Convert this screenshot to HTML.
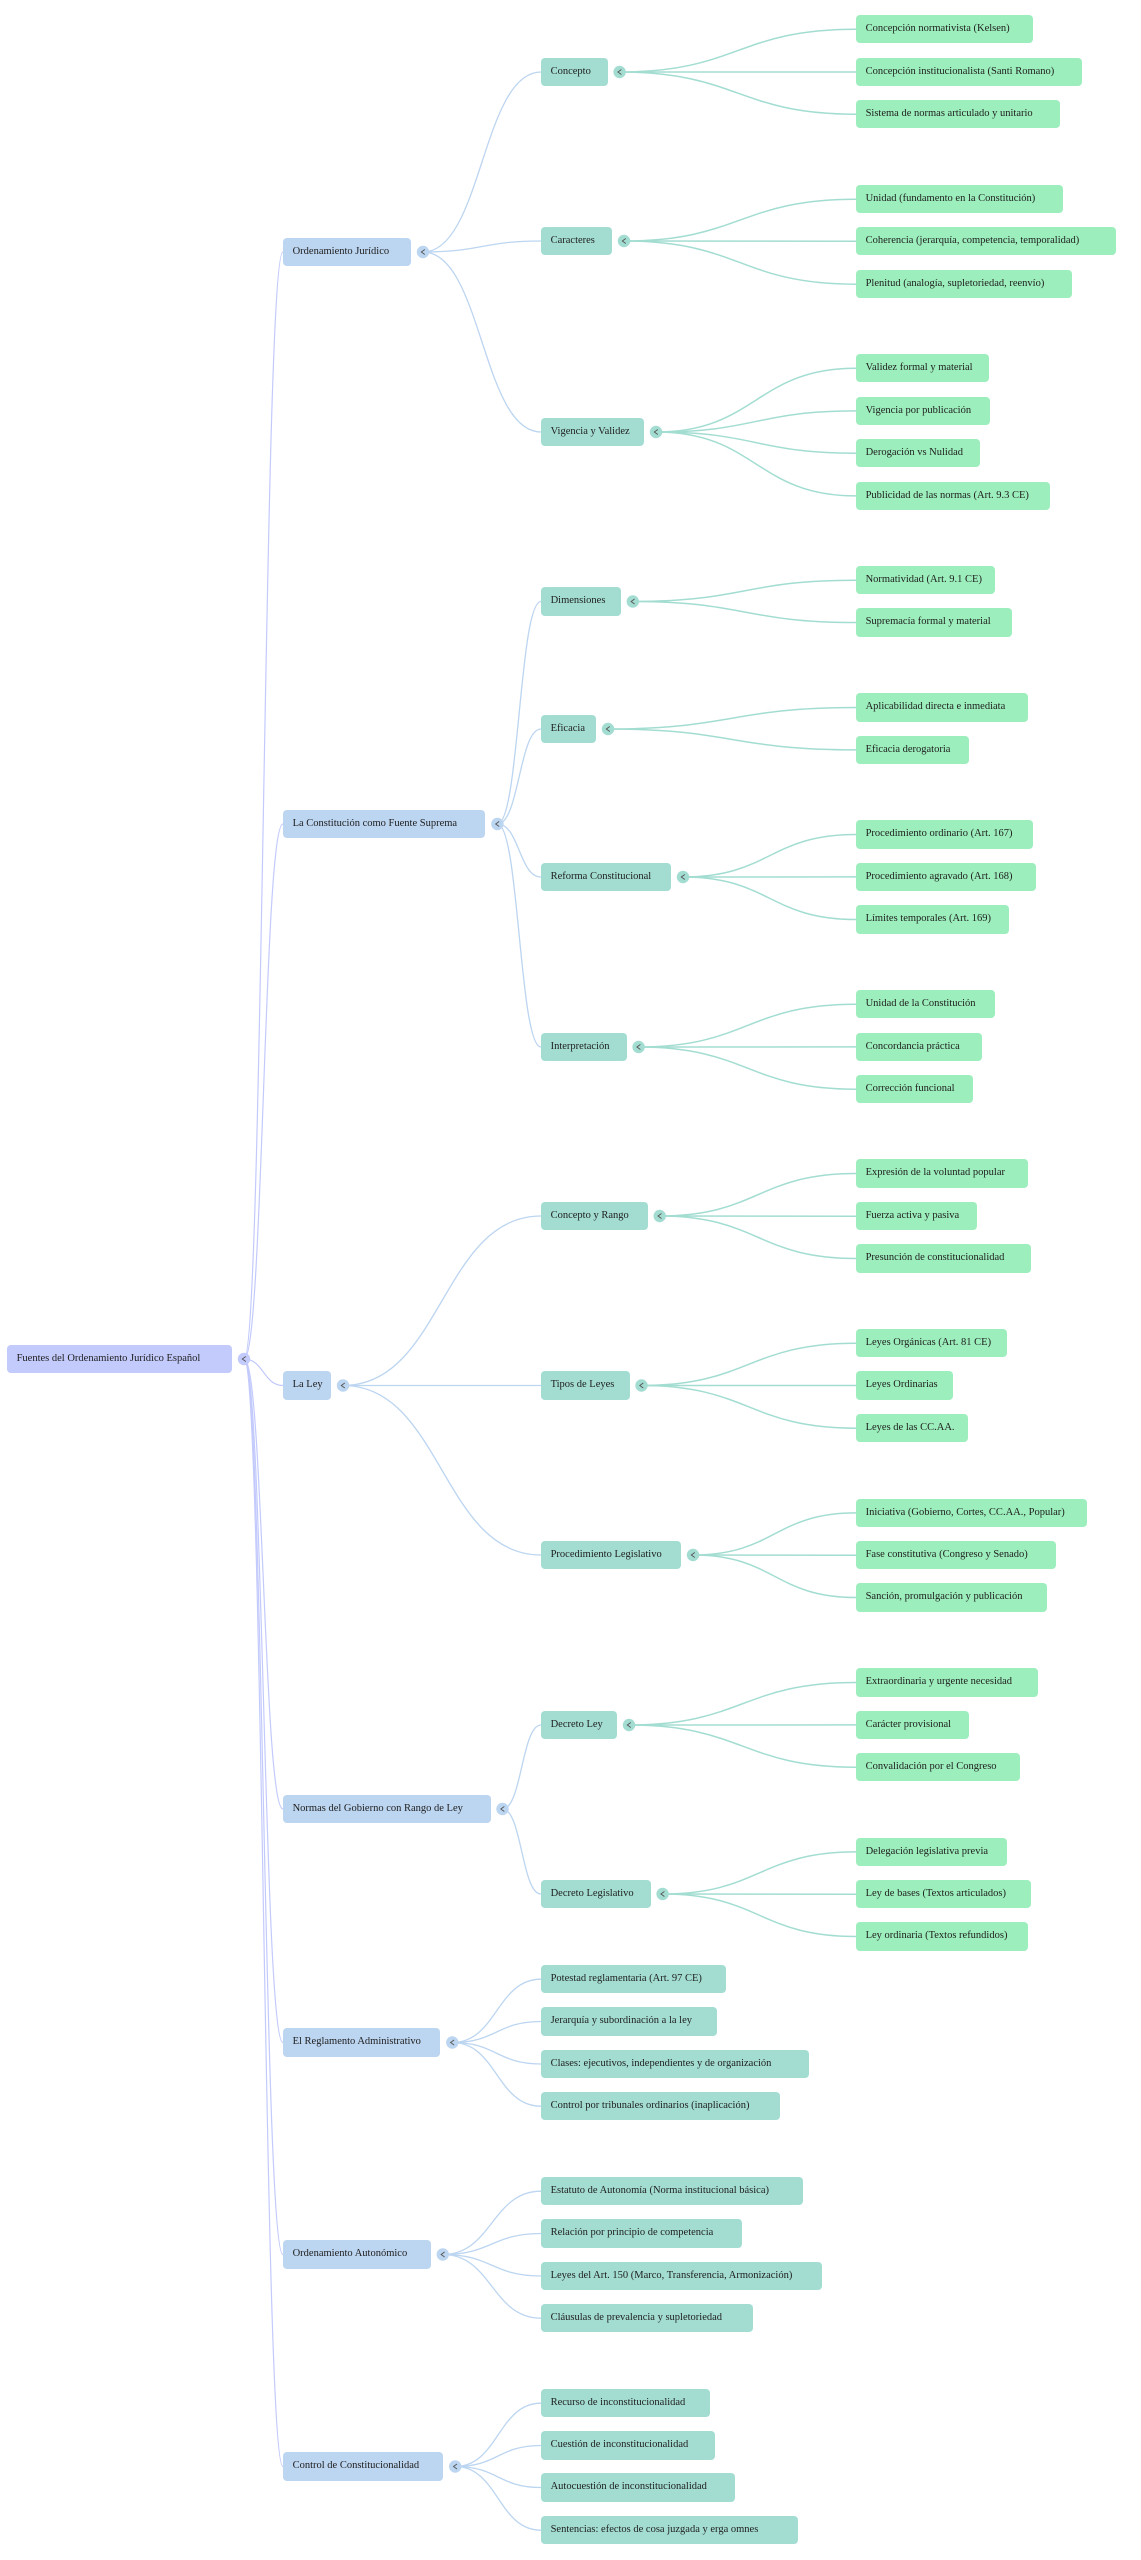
<!DOCTYPE html>
<html><head><meta charset="utf-8"><style>
html,body{margin:0;padding:0;background:#fff;}
body{width:1141px;height:2560px;position:relative;overflow:hidden;font-family:"Liberation Serif","Times New Roman",serif;}
svg{position:absolute;left:0;top:0;}
.n{position:absolute;height:28.4px;line-height:28.4px;box-sizing:border-box;padding-left:9.6px;border-radius:4px;font-size:10.5px;color:#1e1e1e;white-space:nowrap;overflow:visible;}
.r{background:#c3cafc;}
.a{background:#bcd5f0;left:283px;}
.b{background:#a3ddd2;left:541px;}
.c{background:#9ceebc;left:856px;}
</style></head><body>
<svg width="1141" height="2560" viewBox="0 0 1141 2560">
<g fill="none" stroke="#c3cafc" stroke-width="1.2">
<path d="M244 1359C263.5 1359 263.5 252 283 252"/>
<path d="M244 1359C263.5 1359 263.5 824 283 824"/>
<path d="M244 1359C263.5 1359 263.5 1385.5 283 1385.5"/>
<path d="M244 1359C263.5 1359 263.5 1809 283 1809"/>
<path d="M244 1359C263.5 1359 263.5 2042.5 283 2042.5"/>
<path d="M244 1359C263.5 1359 263.5 2254.5 283 2254.5"/>
<path d="M244 1359C263.5 1359 263.5 2466.5 283 2466.5"/>
</g>
<g fill="none" stroke="#bcd5f0" stroke-width="1.3">
<path d="M423 252C482 252 482 72 541 72"/>
<path d="M423 252C482 252 482 241 541 241"/>
<path d="M423 252C482 252 482 432 541 432"/>
<path d="M497.4 824C519.2 824 519.2 601.5 541 601.5"/>
<path d="M497.4 824C519.2 824 519.2 729 541 729"/>
<path d="M497.4 824C519.2 824 519.2 877 541 877"/>
<path d="M497.4 824C519.2 824 519.2 1047 541 1047"/>
<path d="M343 1385.5C442 1385.5 442 1216 541 1216"/>
<path d="M343 1385.5C442 1385.5 442 1385.5 541 1385.5"/>
<path d="M343 1385.5C442 1385.5 442 1555 541 1555"/>
<path d="M502.5 1809C521.75 1809 521.75 1725 541 1725"/>
<path d="M502.5 1809C521.75 1809 521.75 1894 541 1894"/>
<path d="M452.3 2042.5C496.65 2042.5 496.65 1979.2 541 1979.2"/>
<path d="M452.3 2042.5C496.65 2042.5 496.65 2021.5 541 2021.5"/>
<path d="M452.3 2042.5C496.65 2042.5 496.65 2064 541 2064"/>
<path d="M452.3 2042.5C496.65 2042.5 496.65 2106.2 541 2106.2"/>
<path d="M442.8 2254.5C491.9 2254.5 491.9 2191.2 541 2191.2"/>
<path d="M442.8 2254.5C491.9 2254.5 491.9 2233.5 541 2233.5"/>
<path d="M442.8 2254.5C491.9 2254.5 491.9 2276 541 2276"/>
<path d="M442.8 2254.5C491.9 2254.5 491.9 2318.2 541 2318.2"/>
<path d="M455.2 2466.5C498.1 2466.5 498.1 2403.2 541 2403.2"/>
<path d="M455.2 2466.5C498.1 2466.5 498.1 2445.5 541 2445.5"/>
<path d="M455.2 2466.5C498.1 2466.5 498.1 2487.5 541 2487.5"/>
<path d="M455.2 2466.5C498.1 2466.5 498.1 2530.2 541 2530.2"/>
</g>
<g fill="none" stroke="#a3ddd2" stroke-width="1.5">
<path d="M619.6 72C737.8 72 737.8 29.2 856 29.2"/>
<path d="M619.6 72C737.8 72 737.8 72 856 72"/>
<path d="M619.6 72C737.8 72 737.8 114.2 856 114.2"/>
<path d="M624 241C740 241 740 199.2 856 199.2"/>
<path d="M624 241C740 241 740 241.2 856 241.2"/>
<path d="M624 241C740 241 740 284.2 856 284.2"/>
<path d="M656 432C756 432 756 368.2 856 368.2"/>
<path d="M656 432C756 432 756 410.9 856 410.9"/>
<path d="M656 432C756 432 756 453.2 856 453.2"/>
<path d="M656 432C756 432 756 495.9 856 495.9"/>
<path d="M632.8 601.5C744.4 601.5 744.4 580.2 856 580.2"/>
<path d="M632.8 601.5C744.4 601.5 744.4 622.5 856 622.5"/>
<path d="M608 729C732 729 732 707.5 856 707.5"/>
<path d="M608 729C732 729 732 749.9 856 749.9"/>
<path d="M683 877C769.5 877 769.5 834.5 856 834.5"/>
<path d="M683 877C769.5 877 769.5 876.9 856 876.9"/>
<path d="M683 877C769.5 877 769.5 919.5 856 919.5"/>
<path d="M638.6 1047C747.3 1047 747.3 1004.2 856 1004.2"/>
<path d="M638.6 1047C747.3 1047 747.3 1046.9 856 1046.9"/>
<path d="M638.6 1047C747.3 1047 747.3 1089.2 856 1089.2"/>
<path d="M659.7 1216C757.85 1216 757.85 1173.5 856 1173.5"/>
<path d="M659.7 1216C757.85 1216 757.85 1216.2 856 1216.2"/>
<path d="M659.7 1216C757.85 1216 757.85 1258.5 856 1258.5"/>
<path d="M641.5 1385.5C748.75 1385.5 748.75 1343.2 856 1343.2"/>
<path d="M641.5 1385.5C748.75 1385.5 748.75 1385.5 856 1385.5"/>
<path d="M641.5 1385.5C748.75 1385.5 748.75 1428.2 856 1428.2"/>
<path d="M693 1555C774.5 1555 774.5 1512.9 856 1512.9"/>
<path d="M693 1555C774.5 1555 774.5 1555.2 856 1555.2"/>
<path d="M693 1555C774.5 1555 774.5 1597.5 856 1597.5"/>
<path d="M629 1725C742.5 1725 742.5 1682.5 856 1682.5"/>
<path d="M629 1725C742.5 1725 742.5 1724.9 856 1724.9"/>
<path d="M629 1725C742.5 1725 742.5 1767.2 856 1767.2"/>
<path d="M662.6 1894C759.3 1894 759.3 1851.9 856 1851.9"/>
<path d="M662.6 1894C759.3 1894 759.3 1894.2 856 1894.2"/>
<path d="M662.6 1894C759.3 1894 759.3 1936.5 856 1936.5"/>
</g>
<g>
<circle cx="244" cy="1359" r="6.2" fill="#c3cafc"/>
<g fill="#bcd5f0">
<circle cx="423" cy="252" r="6.2"/>
<circle cx="497.4" cy="824" r="6.2"/>
<circle cx="343" cy="1385.5" r="6.2"/>
<circle cx="502.5" cy="1809" r="6.2"/>
<circle cx="452.3" cy="2042.5" r="6.2"/>
<circle cx="442.8" cy="2254.5" r="6.2"/>
<circle cx="455.2" cy="2466.5" r="6.2"/>
</g>
<g fill="#a3ddd2">
<circle cx="619.6" cy="72" r="6.2"/>
<circle cx="624" cy="241" r="6.2"/>
<circle cx="656" cy="432" r="6.2"/>
<circle cx="632.8" cy="601.5" r="6.2"/>
<circle cx="608" cy="729" r="6.2"/>
<circle cx="683" cy="877" r="6.2"/>
<circle cx="638.6" cy="1047" r="6.2"/>
<circle cx="659.7" cy="1216" r="6.2"/>
<circle cx="641.5" cy="1385.5" r="6.2"/>
<circle cx="693" cy="1555" r="6.2"/>
<circle cx="629" cy="1725" r="6.2"/>
<circle cx="662.6" cy="1894" r="6.2"/>
</g>
<g fill="none" stroke="#555" stroke-width="0.9">
<polyline points="245.8,1356.5 242.3,1359 245.8,1361.5"/>
<polyline points="424.8,249.5 421.3,252 424.8,254.5"/>
<polyline points="499.2,821.5 495.7,824 499.2,826.5"/>
<polyline points="344.8,1383 341.3,1385.5 344.8,1388"/>
<polyline points="504.3,1806.5 500.8,1809 504.3,1811.5"/>
<polyline points="454.1,2040 450.6,2042.5 454.1,2045"/>
<polyline points="444.6,2252 441.1,2254.5 444.6,2257"/>
<polyline points="457,2464 453.5,2466.5 457,2469"/>
<polyline points="621.4,69.5 617.9,72 621.4,74.5"/>
<polyline points="625.8,238.5 622.3,241 625.8,243.5"/>
<polyline points="657.8,429.5 654.3,432 657.8,434.5"/>
<polyline points="634.6,599 631.1,601.5 634.6,604"/>
<polyline points="609.8,726.5 606.3,729 609.8,731.5"/>
<polyline points="684.8,874.5 681.3,877 684.8,879.5"/>
<polyline points="640.4,1044.5 636.9,1047 640.4,1049.5"/>
<polyline points="661.5,1213.5 658,1216 661.5,1218.5"/>
<polyline points="643.3,1383 639.8,1385.5 643.3,1388"/>
<polyline points="694.8,1552.5 691.3,1555 694.8,1557.5"/>
<polyline points="630.8,1722.5 627.3,1725 630.8,1727.5"/>
<polyline points="664.4,1891.5 660.9,1894 664.4,1896.5"/>
</g>
</g>
</svg>

<div class="n r" style="left:7px;top:1345px;width:225px;">Fuentes del Ordenamiento Jurídico Español</div>

<div class="n a" style="top:237.7px;width:128px;">Ordenamiento Jurídico</div>
<div class="n a" style="top:810px;width:202.4px;">La Constitución como Fuente Suprema</div>
<div class="n a" style="top:1371.3px;width:48px;">La Ley</div>
<div class="n a" style="top:1795px;width:207.5px;">Normas del Gobierno con Rango de Ley</div>
<div class="n a" style="top:2028.3px;width:157.3px;">El Reglamento Administrativo</div>
<div class="n a" style="top:2240.3px;width:147.8px;">Ordenamiento Autonómico</div>
<div class="n a" style="top:2452.3px;width:160.2px;">Control de Constitucionalidad</div>

<div class="n b" style="top:57.7px;width:66.6px;">Concepto</div>
<div class="n b" style="top:227px;width:71px;">Caracteres</div>
<div class="n b" style="top:418px;width:103px;">Vigencia y Validez</div>
<div class="n b" style="top:587.3px;width:79.8px;">Dimensiones</div>
<div class="n b" style="top:714.7px;width:55px;">Eficacia</div>
<div class="n b" style="top:863px;width:130px;">Reforma Constitucional</div>
<div class="n b" style="top:1032.7px;width:85.6px;">Interpretación</div>
<div class="n b" style="top:1202px;width:106.7px;">Concepto y Rango</div>
<div class="n b" style="top:1371.3px;width:88.5px;">Tipos de Leyes</div>
<div class="n b" style="top:1541px;width:140px;">Procedimiento Legislativo</div>
<div class="n b" style="top:1710.7px;width:76px;">Decreto Ley</div>
<div class="n b" style="top:1880px;width:109.6px;">Decreto Legislativo</div>
<div class="n b" style="top:1965px;width:185.3px;">Potestad reglamentaria (Art. 97 CE)</div>
<div class="n b" style="top:2007.3px;width:175.9px;">Jerarquía y subordinación a la ley</div>
<div class="n b" style="top:2049.7px;width:268.3px;">Clases: ejecutivos, independientes y de organización</div>
<div class="n b" style="top:2092px;width:238.5px;">Control por tribunales ordinarios (inaplicación)</div>
<div class="n b" style="top:2177px;width:261.8px;">Estatuto de Autonomía (Norma institucional básica)</div>
<div class="n b" style="top:2219.3px;width:200.6px;">Relación por principio de competencia</div>
<div class="n b" style="top:2261.7px;width:281.4px;">Leyes del Art. 150 (Marco, Transferencia, Armonización)</div>
<div class="n b" style="top:2304px;width:211.5px;">Cláusulas de prevalencia y supletoriedad</div>
<div class="n b" style="top:2389px;width:169.3px;">Recurso de inconstitucionalidad</div>
<div class="n b" style="top:2431.3px;width:173.7px;">Cuestión de inconstitucionalidad</div>
<div class="n b" style="top:2473.3px;width:194px;">Autocuestión de inconstitucionalidad</div>
<div class="n b" style="top:2516px;width:257.4px;">Sentencias: efectos de cosa juzgada y erga omnes</div>

<div class="n c" style="top:15px;width:177px;">Concepción normativista (Kelsen)</div>
<div class="n c" style="top:57.7px;width:226px;">Concepción institucionalista (Santi Romano)</div>
<div class="n c" style="top:100px;width:204px;">Sistema de normas articulado y unitario</div>
<div class="n c" style="top:185px;width:206.5px;">Unidad (fundamento en la Constitución)</div>
<div class="n c" style="top:227px;width:259.5px;">Coherencia (jerarquía, competencia, temporalidad)</div>
<div class="n c" style="top:270px;width:216px;">Plenitud (analogía, supletoriedad, reenvío)</div>
<div class="n c" style="top:354px;width:133px;">Validez formal y material</div>
<div class="n c" style="top:396.7px;width:134px;">Vigencia por publicación</div>
<div class="n c" style="top:439px;width:124px;">Derogación vs Nulidad</div>
<div class="n c" style="top:481.7px;width:194px;">Publicidad de las normas (Art. 9.3 CE)</div>
<div class="n c" style="top:566px;width:139px;">Normatividad (Art. 9.1 CE)</div>
<div class="n c" style="top:608.3px;width:155.6px;">Supremacía formal y material</div>
<div class="n c" style="top:693.3px;width:171.6px;">Aplicabilidad directa e inmediata</div>
<div class="n c" style="top:735.7px;width:112.6px;">Eficacia derogatoria</div>
<div class="n c" style="top:820.3px;width:176.7px;">Procedimiento ordinario (Art. 167)</div>
<div class="n c" style="top:862.7px;width:179.6px;">Procedimiento agravado (Art. 168)</div>
<div class="n c" style="top:905.3px;width:152.7px;">Límites temporales (Art. 169)</div>
<div class="n c" style="top:990px;width:139px;">Unidad de la Constitución</div>
<div class="n c" style="top:1032.7px;width:125.8px;">Concordancia práctica</div>
<div class="n c" style="top:1075px;width:117px;">Corrección funcional</div>
<div class="n c" style="top:1159.3px;width:171.6px;">Expresión de la voluntad popular</div>
<div class="n c" style="top:1202px;width:120.7px;">Fuerza activa y pasiva</div>
<div class="n c" style="top:1244.3px;width:174.5px;">Presunción de constitucionalidad</div>
<div class="n c" style="top:1329px;width:151.3px;">Leyes Orgánicas (Art. 81 CE)</div>
<div class="n c" style="top:1371.3px;width:96.7px;">Leyes Ordinarias</div>
<div class="n c" style="top:1414px;width:112px;">Leyes de las CC.AA.</div>
<div class="n c" style="top:1498.7px;width:231.3px;">Iniciativa (Gobierno, Cortes, CC.AA., Popular)</div>
<div class="n c" style="top:1541px;width:200px;">Fase constitutiva (Congreso y Senado)</div>
<div class="n c" style="top:1583.3px;width:190.6px;">Sanción, promulgación y publicación</div>
<div class="n c" style="top:1668.3px;width:181.8px;">Extraordinaria y urgente necesidad</div>
<div class="n c" style="top:1710.7px;width:112.7px;">Carácter provisional</div>
<div class="n c" style="top:1753px;width:164.4px;">Convalidación por el Congreso</div>
<div class="n c" style="top:1837.7px;width:151.3px;">Delegación legislativa previa</div>
<div class="n c" style="top:1880px;width:174.6px;">Ley de bases (Textos articulados)</div>
<div class="n c" style="top:1922.3px;width:172.4px;">Ley ordinaria (Textos refundidos)</div>
</body></html>
